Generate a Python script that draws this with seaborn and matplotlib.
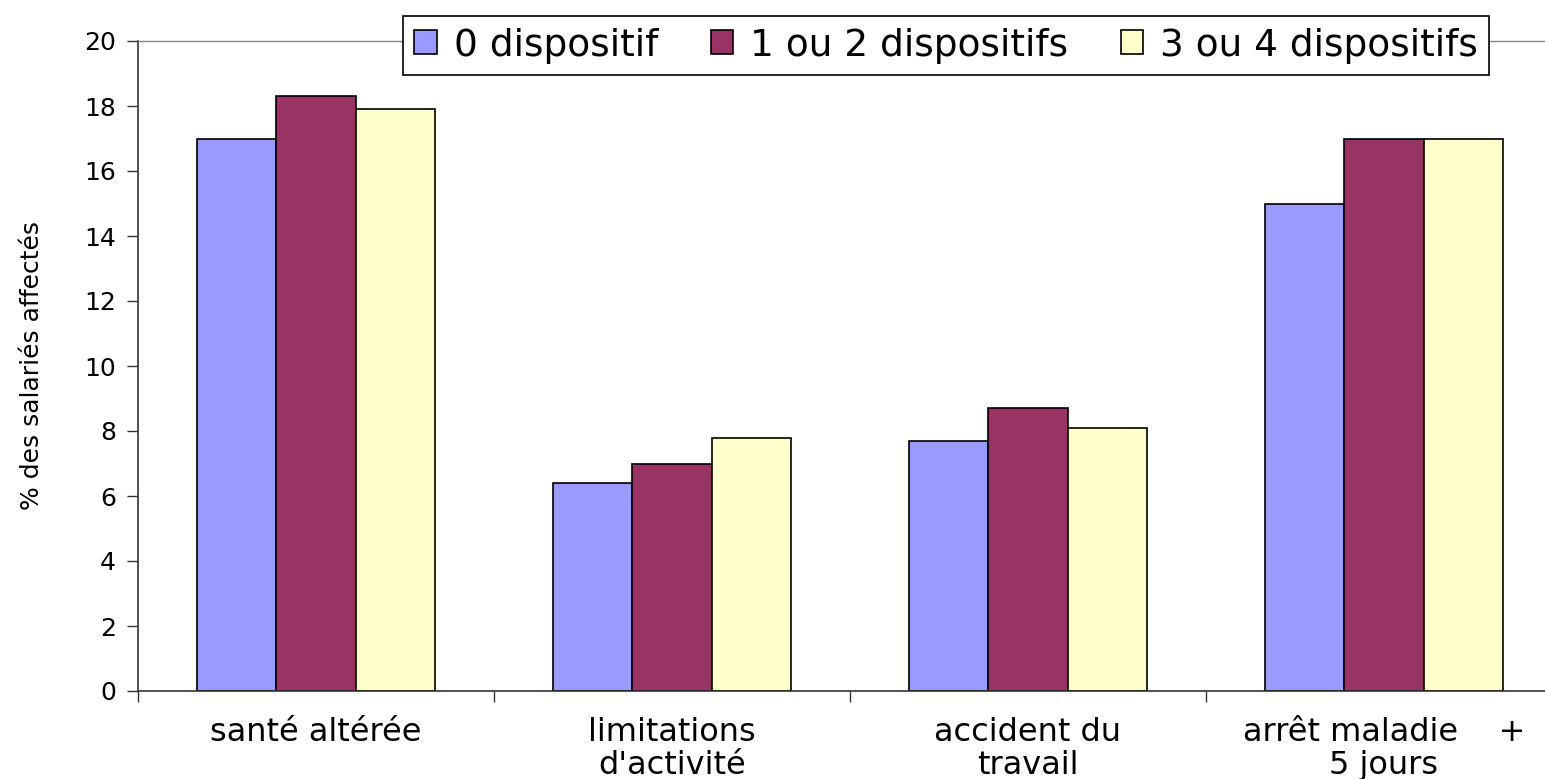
import matplotlib
matplotlib.use("Agg")
import matplotlib.pyplot as plt
import seaborn as sns
import pandas as pd
from matplotlib.patches import Patch

categories = ["santé altérée", "limitations\nd'activité", "accident du\ntravail", "arrêt maladie    +\n5 jours"]
series = ["0 dispositif", "1 ou 2 dispositifs", "3 ou 4 dispositifs"]
values_0 = [17.0, 6.4, 7.7, 15.0]
values_12 = [18.3, 7.0, 8.7, 17.0]
values_34 = [17.9, 7.8, 8.1, 17.0]
colors = ["#9999FF", "#993366", "#FFFFCC"]
y_ticks = [0, 2, 4, 6, 8, 10, 12, 14, 16, 18, 20]
y_label = "% des salariés affectés"

rows = []
for s, vals in zip(series, [values_0, values_12, values_34]):
    for c, v in zip(categories, vals):
        rows.append({"cat": c, "serie": s, "val": v})
df = pd.DataFrame(rows)

sns.set_theme(style="white")
plt.rcParams["font.family"] = ["DejaVu Sans"]
plt.rcParams["text.color"] = "black"
plt.rcParams["xtick.color"] = "black"
plt.rcParams["ytick.color"] = "black"
plt.rcParams["axes.labelcolor"] = "black"

fig = plt.figure(figsize=(15.45, 7.79), dpi=100)
ax = fig.add_axes([138 / 1545, 1 - 691 / 779, (1562 - 138) / 1545, (691 - 41) / 779])

sns.barplot(data=df, x="cat", y="val", hue="serie", order=categories, hue_order=series,
            palette=colors, width=0.67, gap=0, edgecolor="black", linewidth=1.2,
            saturation=1, ax=ax, legend=False)

ax.set_xlim(-0.5, 3.5)
ax.set_ylim(0, 20)
ax.set_yticks(y_ticks)
ax.set_yticklabels([str(t) for t in y_ticks], fontsize=18)
ax.tick_params(axis="y", direction="out", length=8, width=1, color="#333333", pad=8, left=True)

ax.set_xticks(range(len(categories)))
ax.set_xticklabels(categories, fontsize=23)
ax.set_xticks([-0.5, 0.5, 1.5, 2.5, 3.5], minor=True)
ax.tick_params(axis="x", which="major", length=0, pad=19)
ax.tick_params(axis="x", which="minor", direction="out", length=8, width=1, color="#333333", bottom=True)
for t in ax.get_xticklabels():
    t.set_linespacing(1.08)
ax.set_xlabel("")

for side in ["left", "bottom"]:
    ax.spines[side].set_color("#333333")
    ax.spines[side].set_linewidth(1.2)
ax.spines["top"].set_color("#888888")
ax.spines["top"].set_linewidth(1)
ax.spines["right"].set_visible(False)

ax.set_ylabel(y_label, fontsize=18)
ax.yaxis.set_label_coords(-0.066, 0.5)

handles = [Patch(facecolor=c, edgecolor="black", linewidth=1.2) for c in colors]
leg = fig.legend(handles, series, loc="center", bbox_to_anchor=(946 / 1545, 1 - 45.5 / 779),
                 ncol=3, fontsize=27, frameon=True, fancybox=False, framealpha=1,
                 edgecolor="black", handlelength=0.6, handleheight=0.6, handletextpad=0.45,
                 columnspacing=1.4, borderpad=0.3)
leg.get_frame().set_linewidth(1.2)

fig.savefig("out.png", dpi=100)
